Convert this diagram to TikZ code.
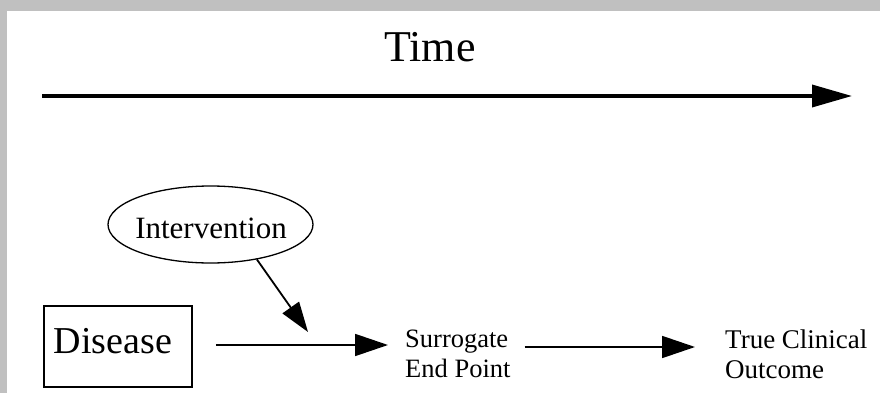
\documentclass[tikz,border=0pt]{standalone}
\usepackage{fontspec}
\setmainfont{Liberation Serif}
\usetikzlibrary{arrows.meta,shapes.geometric}
\definecolor{bgray}{RGB}{192,192,192}
\begin{document}
\begin{tikzpicture}[x=1pt,y=-1pt,
  bigarr/.style={line width=3.6pt,-{Triangle[length=40pt,width=22pt]}},
  arr/.style={line width=1.8pt,-{Triangle[length=33pt,width=22pt]}},
  iarr/.style={line width=1.8pt,-{Triangle[length=30pt,width=20pt]}},
  lbl/.style={inner sep=0pt,align=left,font=\fontsize{26.5}{30}\selectfont}]
\fill[bgray] (0,0) rectangle (880,393);
\fill[white] (7,11) rectangle (880,393);
\useasboundingbox (0,0) rectangle (880,393);
% Time
\node[anchor=base,inner sep=0pt,font=\fontsize{44}{50}\selectfont] (time) at (430,62) {Time};
\coordinate (t1) at (42,96);
\coordinate (t2) at (852,96);
\draw[bigarr] (t1) -- (t2);
% Intervention
\node[draw,ellipse,line width=1.3pt,minimum width=205pt,minimum height=77pt,inner sep=0pt] (int) at (210.5,224.5) {};
\node[anchor=base,inner sep=0pt,font=\fontsize{31}{34}\selectfont] (intt) at (211,238) {Intervention};
\coordinate (itip) at (308,332);
\draw[iarr] (int.-37) -- (itip);
% Disease
\node[draw,line width=1.5pt,minimum width=148pt,minimum height=81pt,inner sep=0pt] (dis) at (118,346.5) {};
\node[anchor=base,inner sep=0pt,font=\fontsize{38}{42}\selectfont] (dist) at (113,353) {Disease};
% Surrogate
\node[lbl,anchor=base west] (sur) at (405,377) {Surrogate\\End Point};
% True clinical outcome
\node[lbl,anchor=base west,font=\fontsize{27}{30}\selectfont] (tco) at (725,378) {True Clinical\\Outcome};
\coordinate (a1y) at (0,345);
\coordinate (a2y) at (0,347);
\draw[arr] ([xshift=23pt]dis.east |- a1y) -- ([xshift=-17pt]sur.west |- a1y);
\draw[arr] ([xshift=14pt]sur.east |- a2y) -- ([xshift=-30pt]tco.west |- a2y);
\end{tikzpicture}
\end{document}
